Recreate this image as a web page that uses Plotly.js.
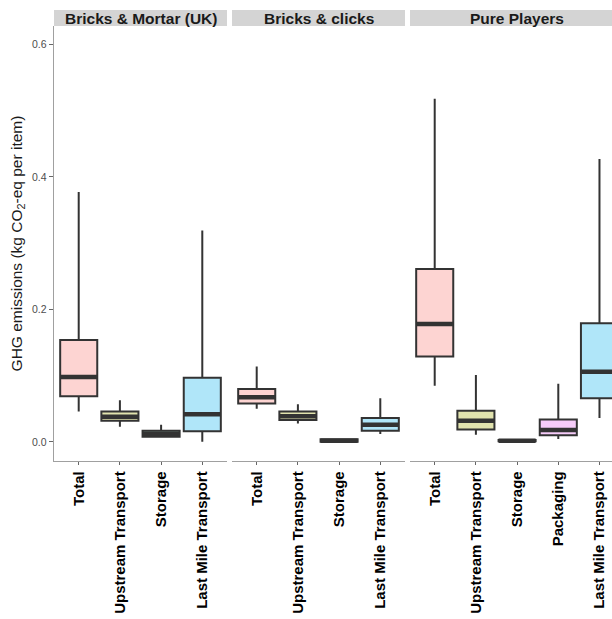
<!DOCTYPE html>
<html>
<head>
<meta charset="utf-8">
<script src="https://cdn.plot.ly/plotly-3.0.1.min.js"></script>
<style>
  html, body { margin: 0; padding: 0; background: #ffffff; overflow: hidden; }
  #chart { width: 612px; height: 619px; }
</style>
</head>
<body>
<div id="chart"></div>
<script>
// Per-item GHG emissions by retail channel and supply-chain stage (kg CO2-eq per item)
// Box summaries: lower whisker, Q1, median, Q3, upper whisker.

// Bricks & Mortar (UK)
const bmCats = ['Total', 'Upstream Transport', 'Storage', 'Last Mile Transport'];
const bmLo  = [0.046, 0.023, 0.0065, 0.0005];
const bmQ1  = [0.069, 0.032, 0.008, 0.016];
const bmMed = [0.098, 0.038, 0.0125, 0.042];
const bmQ3  = [0.154, 0.046, 0.017, 0.097];
const bmHi  = [0.377, 0.063, 0.026, 0.319];

// Bricks & clicks
const bcCats = ['Total', 'Upstream Transport', 'Storage', 'Last Mile Transport'];
const bcLo  = [0.050, 0.028, 0.0, 0.012];
const bcQ1  = [0.058, 0.033, 0.0005, 0.017];
const bcMed = [0.0675, 0.039, 0.002, 0.026];
const bcQ3  = [0.080, 0.046, 0.004, 0.036];
const bcHi  = [0.114, 0.057, 0.005, 0.066];

// Pure Players
const ppCats = ['Total', 'Upstream Transport', 'Storage', 'Packaging', 'Last Mile Transport'];
const ppLo  = [0.085, 0.011, 0.0, 0.0045, 0.036];
const ppQ1  = [0.129, 0.019, 0.001, 0.010, 0.066];
const ppMed = [0.178, 0.032, 0.002, 0.018, 0.106];
const ppQ3  = [0.261, 0.047, 0.003, 0.034, 0.179];
const ppHi  = [0.518, 0.101, 0.004, 0.088, 0.427];

const panelTitles = ['Bricks & Mortar (UK)', 'Bricks & clicks', 'Pure Players'];

const yTickVals = [0, 0.2, 0.4, 0.6];
const yTickText = ['0.0', '0.2', '0.4', '0.6'];

// Fill colour for each stage (light hue palette)
const stageFill = {
  'Total': '#FDD4D2',
  'Upstream Transport': '#E1E3AE',
  'Storage': '#B0EED6',
  'Packaging': '#F6CCF9',
  'Last Mile Transport': '#B0E6F9'
};

const BOX_W = 0.9;
const EDGE = '#333333';
const FONT = 'Liberation Sans, Arial, sans-serif';

const panels = [
  { ax: 'x',  cats: bmCats, lo: bmLo, q1: bmQ1, med: bmMed, q3: bmQ3, hi: bmHi },
  { ax: 'x2', cats: bcCats, lo: bcLo, q1: bcQ1, med: bcMed, q3: bcQ3, hi: bcHi },
  { ax: 'x3', cats: ppCats, lo: ppLo, q1: ppQ1, med: ppMed, q3: ppQ3, hi: ppHi }
];

const traces = [];
panels.forEach(p => {
  p.cats.forEach((c, i) => {
    const pos = i + 1;
    traces.push({
      type: 'box',
      xaxis: p.ax, yaxis: 'y',
      x: [pos],
      lowerfence: [p.lo[i]], q1: [p.q1[i]], median: [p.med[i]],
      q3: [p.q3[i]], upperfence: [p.hi[i]],
      width: BOX_W,
      whiskerwidth: 0,
      boxpoints: false,
      fillcolor: stageFill[c],
      line: { color: EDGE, width: 2 },
      hoverinfo: 'y',
      showlegend: false
    });
    // heavier median bar across the box
    traces.push({
      type: 'scatter', mode: 'lines',
      xaxis: p.ax, yaxis: 'y',
      x: [pos - BOX_W / 2, pos + BOX_W / 2],
      y: [p.med[i], p.med[i]],
      line: { color: EDGE, width: 4.5 },
      hoverinfo: 'skip',
      showlegend: false
    });
  });
});

const W = 612, H = 619;
const px = v => v / W;
const py = v => 1 - v / H;

const panelPx = [[54, 227], [232, 405], [410, 624]];
const unitPx = (227 - 54) / 4.2;

function xAxis(i, cats) {
  const [a, b] = panelPx[i];
  const right = Math.min(b, W);
  return {
    domain: [px(a), px(right)],
    anchor: 'y',
    range: [0.4, 0.4 + (right - a) / unitPx],
    tickmode: 'array',
    tickvals: cats.map((_, k) => k + 1),
    ticktext: cats,
    tickangle: -90,
    tickfont: { family: FONT, size: 15, color: '#000000', weight: 'bold' },
    ticks: 'outside', ticklen: 3, tickcolor: '#666666', tickwidth: 1,
    showline: true, linecolor: '#a0a0a0', linewidth: 1.3,
    showgrid: false, zeroline: false, fixedrange: true
  };
}

const shapes = [];
const annotations = [];
panelPx.forEach(([a, b], i) => {
  shapes.push({
    type: 'rect', xref: 'paper', yref: 'paper', layer: 'below',
    x0: px(a), x1: px(b), y0: py(26), y1: py(10),
    fillcolor: '#D4D4D4', line: { width: 0 }
  });
  annotations.push({
    xref: 'paper', yref: 'paper',
    x: px((a + b) / 2), y: py(18),
    xanchor: 'center', yanchor: 'middle', showarrow: false,
    text: panelTitles[i],
    font: { family: FONT, size: 15.5, color: '#1a1a1a', weight: 'bold' }
  });
});

const layout = {
  width: W, height: H,
  margin: { l: 0, r: 0, t: 0, b: 0 },
  paper_bgcolor: '#ffffff', plot_bgcolor: '#ffffff',
  showlegend: false,
  xaxis: xAxis(0, bmCats),
  xaxis2: xAxis(1, bcCats),
  xaxis3: xAxis(2, ppCats),
  yaxis: {
    domain: [py(461), py(26)],
    anchor: 'x',
    range: [-0.0287, 0.6276],
    tickmode: 'array', tickvals: yTickVals, ticktext: yTickText,
    tickfont: { family: FONT, size: 10.5, color: '#4d4d4d' },
    ticks: 'outside', ticklen: 4, tickcolor: '#666666', tickwidth: 1,
    showline: true, linecolor: '#a0a0a0', linewidth: 1.3,
    showgrid: false, zeroline: false, fixedrange: true,
    automargin: false,
    title: {
      text: 'GHG emissions (kg CO<sub>2</sub>-eq per item)',
      font: { family: FONT, size: 15.5, color: '#1a1a1a' },
      standoff: 5
    }
  },
  shapes: shapes,
  annotations: annotations
};

Plotly.newPlot('chart', traces, layout, { displayModeBar: false, staticPlot: true });
</script>
</body>
</html>
